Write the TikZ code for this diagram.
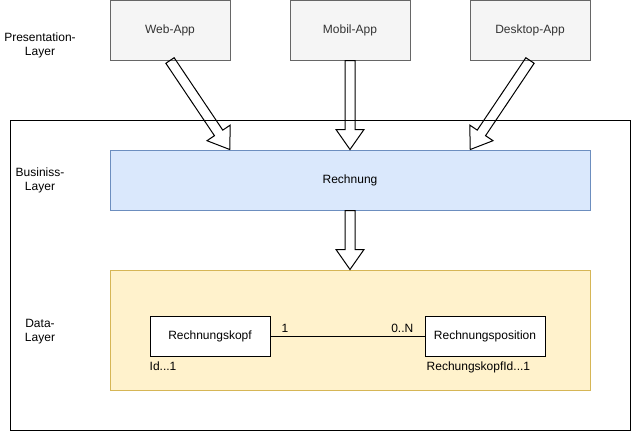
\documentclass[tikz,border=0pt]{standalone}
\usepackage{fontspec}
\setmainfont{Liberation Sans}
\usetikzlibrary{calc,positioning}

\tikzset{
  app/.style={draw=capp,fill=cfapp,text=ctapp,line width=1pt,minimum width=120pt,minimum height=60pt,inner sep=0pt},
  layerbox/.style={draw=black,line width=1pt,minimum width=620pt,minimum height=310pt,inner sep=0pt},
  bizbox/.style={draw=cbiz,fill=cfbiz,line width=1pt,minimum width=480pt,minimum height=60pt,inner sep=0pt},
  databox/.style={draw=cdata,fill=cfdata,line width=1pt,minimum width=480pt,minimum height=120pt,inner sep=0pt},
  entity/.style={draw=black,fill=white,line width=1pt,minimum width=120pt,minimum height=40pt,inner sep=0pt},
  layername/.style={align=center,inner sep=0pt},
  tag/.style={inner sep=0pt},
  relline/.style={draw=black,line width=1pt},
  fatline/.style={draw=black,line width=1pt,line join=miter},
}

% breiter Blockpfeil von #1 nach #2
\newcommand{\fatarrow}[2]{%
  \coordinate (fh) at ($(#2)!20pt!(#1)$);
  \draw[fatline] ($(#1)!5pt!90:(#2)$) -- ($(fh)!5pt!90:(#2)$) -- ($(fh)!14pt!90:(#2)$) -- (#2)
    -- ($(fh)!14pt!-90:(#2)$) -- ($(fh)!5pt!-90:(#2)$) -- ($(#1)!5pt!-90:(#2)$) -- cycle;}

\begin{document}
\begin{tikzpicture}[x=1pt,y=-1pt,font=\fontsize{12pt}{14pt}\selectfont]
%
\useasboundingbox (0,0) rectangle (632,432);
%
\definecolor{capp}{rgb}{0.4,0.4,0.4}
\definecolor{cfapp}{rgb}{0.961,0.961,0.961}
\definecolor{ctapp}{rgb}{0.2,0.2,0.2}
\definecolor{cbiz}{rgb}{0.424,0.557,0.749}
\definecolor{cfbiz}{rgb}{0.855,0.910,0.988}
\definecolor{cdata}{rgb}{0.839,0.714,0.337}
\definecolor{cfdata}{rgb}{1.0,0.949,0.8}
%
\node[layerbox] (layers) at (320,275) {};
%
\node[app] (web) at (170,30) {Web-App};
\node[app] (mobil) at (350,30) {Mobil-App};
\node[app] (desktop) at (530,30) {Desktop-App};
%
\node[bizbox] (rechnung) at (350,180) {Rechnung};
\node[databox] (data) at (350,330) {};
%
\node[entity] (kopf) at (210,336) {Rechnungskopf};
\node[entity] (position) at (485,336) {Rechnungsposition};
%
\node[layername] (lpres) at (40,45) {Presentation-\\Layer};
\node[layername] (lbiz) at (40,180) {Businiss-\\Layer};
\node[layername] (ldata) at (40,332) {Data-\\Layer};
%
\coordinate (webtip) at ($(rechnung.north west)!0.25!(rechnung.north east)$);
\coordinate (desktoptip) at ($(rechnung.north west)!0.75!(rechnung.north east)$);
%
\fatarrow{web.south}{webtip}
\fatarrow{mobil.south}{rechnung.north}
\fatarrow{desktop.south}{desktoptip}
\fatarrow{rechnung.south}{data.north}
%
\draw[relline] (kopf) -- (position);
\node[tag,above right=3pt and 11pt of kopf.east] (one) {1};
\node[tag,above left=3pt and 11pt of position.west] (many) {0..N};
\node[tag,below right=5pt and 0pt of kopf.south west] (kopfid) {Id...1};
\node[tag,below right=5pt and 2pt of position.south west] (posid) {RechungskopfId...1};
%
\end{tikzpicture}
\end{document}
